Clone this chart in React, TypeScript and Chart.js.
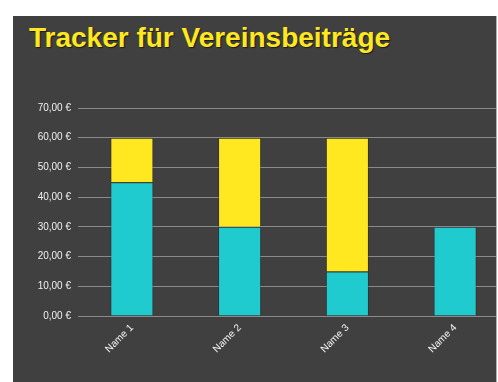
import React, { useEffect, useRef } from "react";
import { Chart, registerables } from "chart.js";

Chart.register(...registerables);

const title = "Tracker für Vereinsbeiträge";
const categories = ["Name 1", "Name 2", "Name 3", "Name 4"];
const paid = [45, 30, 15, 30];
const outstanding = [15, 30, 45, 0];
const yMax = 70;
const yStep = 10;

const CYAN = "#1fcbcf";
const YELLOW = "#ffe81f";
const BG = "#404040";

const fmt = (v: number) => v.toFixed(2).replace(".", ",") + " €";

export default function App() {
  const ref = useRef<HTMLCanvasElement | null>(null);
  useEffect(() => {
    if (!ref.current) return;
    const chart = new Chart(ref.current, {
      type: "bar",
      data: {
        labels: categories,
        datasets: [
          {
            label: "Bezahlt",
            data: paid,
            backgroundColor: CYAN,
            borderColor: "rgba(0,0,0,0.22)",
            borderWidth: 1,
            barPercentage: 0.4,
            categoryPercentage: 1,
          },
          {
            label: "Offen",
            data: outstanding,
            backgroundColor: YELLOW,
            borderColor: "rgba(0,0,0,0.22)",
            borderWidth: 1,
            barPercentage: 0.4,
            categoryPercentage: 1,
          },
        ],
      },
      options: {
        animation: false,
        responsive: false,
        maintainAspectRatio: false,
        layout: { padding: { top: 92, left: 0, right: 4, bottom: 0 } },
        plugins: { legend: { display: false }, title: { display: false }, tooltip: { enabled: false } },
        scales: {
          x: {
            stacked: true,
            grid: { display: false, drawTicks: false },
            border: { display: false },
            ticks: {
              color: "#f0f0f0",
              font: { family: "'Liberation Sans', Arial, sans-serif", size: 10 },
              minRotation: 45,
              maxRotation: 45,
              padding: 6,
            },
            afterFit: (s: any) => {
              s.height = 66;
            },
          },
          y: {
            stacked: true,
            min: 0,
            max: yMax,
            grid: { color: "#8a8a8a", lineWidth: 1, drawTicks: false },
            border: { display: false },
            ticks: {
              stepSize: yStep,
              color: "#f0f0f0",
              font: { family: "'Liberation Sans', Arial, sans-serif", size: 10 },
              padding: 7,
              callback: (v: any) => fmt(Number(v)),
            },
            afterFit: (s: any) => {
              s.width = 65;
            },
          },
        },
      },
    });
    return () => chart.destroy();
  }, []);

  return (
    <div
      style={{
        position: "absolute",
        left: 13,
        top: 16,
        width: 483,
        height: 366,
        background: BG,
        overflow: "hidden",
        borderRight: "1px solid #b0b0b0",
      }}
    >
      <div
        style={{
          position: "absolute",
          left: 16,
          top: 6,
          fontFamily: "'Liberation Sans', Arial, sans-serif",
          fontWeight: "bold",
          fontSize: 28,
          lineHeight: "normal",
          color: YELLOW,
          whiteSpace: "nowrap",
          textShadow: "1px 1px 1px rgba(0,0,0,0.6)",
        }}
      >
        {title}
      </div>
      <canvas
        ref={ref}
        width={500}
        height={366}
        style={{ position: "absolute", left: 0, top: 0, width: 500, height: 366 }}
      />
    </div>
  );
}
